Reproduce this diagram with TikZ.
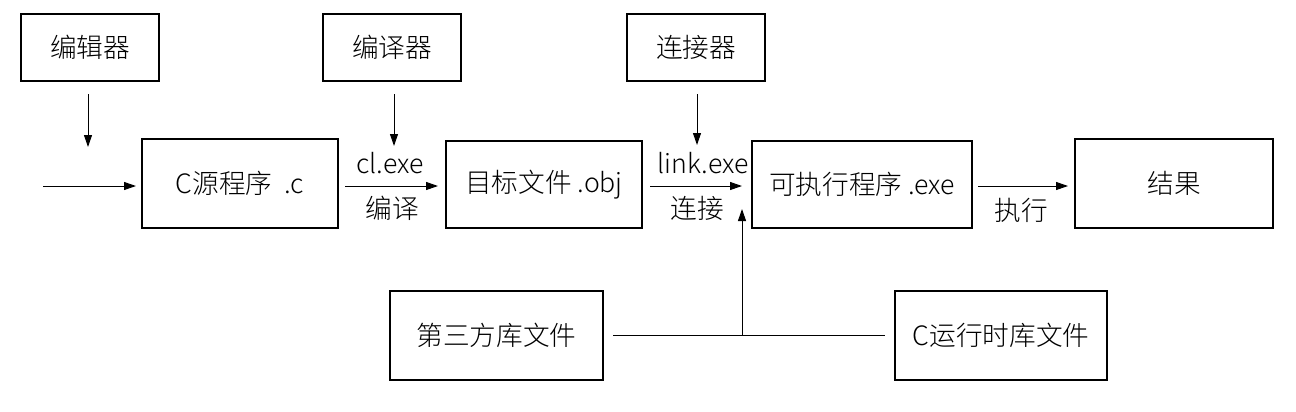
\documentclass[tikz,border=0pt]{standalone}
\usepackage{fontspec}
\setmainfont{Noto Sans CJK SC Light}
\usetikzlibrary{arrows.meta}
\begin{document}
\begin{tikzpicture}[x=0.75pt,y=-0.75pt,
  box/.style={draw,line width=1.5pt,inner sep=0pt,font=\fontsize{20}{23}\selectfont},
  lbl/.style={inner sep=0pt,font=\fontsize{20}{23}\selectfont},
  arr/.style={-{Triangle[length=9pt,width=6pt]},line width=0.75pt},
  ln/.style={line width=0.75pt}]
\useasboundingbox (0,0) rectangle (1296,411);
\node[box,minimum width=138*0.75pt,minimum height=67*0.75pt] (editor) at (90,47.5) {编辑器};
\node[box,minimum width=138*0.75pt,minimum height=67*0.75pt] (compiler) at (392,47.5) {编译器};
\node[box,minimum width=138*0.75pt,minimum height=67*0.75pt] (linker) at (696,47.5) {连接器};
\node[box,minimum width=196*0.75pt,minimum height=89*0.75pt] (src) at (240,183.5) {C源程序\ \ .c};
\node[box,minimum width=196*0.75pt,minimum height=87*0.75pt] (obj) at (544,184.5) {目标文件 .obj};
\node[box,minimum width=220*0.75pt,minimum height=87*0.75pt] (exe) at (862,184.5) {可执行程序 .exe};
\node[box,minimum width=198*0.75pt,minimum height=89*0.75pt] (res) at (1174,183.5) {结果};
\node[box,minimum width=213*0.75pt,minimum height=89*0.75pt] (third) at (496.5,335.5) {第三方库文件};
\node[box,minimum width=212*0.75pt,minimum height=89*0.75pt] (crt) at (1001,335.5) {C运行时库文件};
% free ends
\coordinate (e1) at (88,94); \coordinate (e2) at (88,147);
\coordinate (i1) at (43,186); \coordinate (i2) at (136,186);
\coordinate (c1) at (394,94); \coordinate (c2) at (394,146);
\coordinate (l1) at (697,94); \coordinate (l2) at (697,145);
\coordinate (j) at (742,335); \coordinate (u2) at (742,209);
\coordinate (h1) at (613,335); \coordinate (h2) at (885,335);
\coordinate (m1a) at (345,186); \coordinate (m1b) at (438,186);
\coordinate (m2a) at (650,186); \coordinate (m2b) at (742,186);
\coordinate (m3a) at (978,186); \coordinate (m3b) at (1068,186);
\draw[arr] (e1) -- (e2);
\draw[arr] (i1) -- (i2);
\draw[arr] (c1) -- (c2);
\draw[arr] (l1) -- (l2);
\draw[arr] (m1a) -- (m1b);
\draw[arr] (m2a) -- (m2b);
\draw[arr] (m3a) -- (m3b);
\draw[ln] (h1) -- (h2);
\draw[arr] (j) -- (u2);
\node[lbl] (cl) at (390,163) {cl.exe};
\node[lbl] (bianyi) at (392,208) {编译};
\node[lbl] (link) at (703,163) {link.exe};
\node[lbl] (lianjie) at (697,208) {连接};
\node[lbl] (zhixing) at (1021,210) {执行};
\end{tikzpicture}
\end{document}
